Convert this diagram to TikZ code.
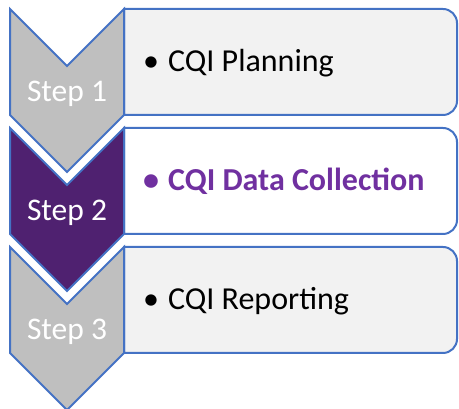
\documentclass[tikz,border=0pt]{standalone}
\usepackage{fontspec}
\setmainfont{Carlito}
\definecolor{edgeblue}{HTML}{4472C4}
\definecolor{chevgray}{HTML}{BFBFBF}
\definecolor{chevpurple}{HTML}{4F2170}
\definecolor{boxgray}{HTML}{F2F2F2}
\definecolor{textpurple}{HTML}{7030A0}
\tikzset{
  chevron/.style={draw=edgeblue, line width=2pt, line join=miter},
  panel/.style={draw=edgeblue, line width=2pt},
  steplabel/.style={text=white, font=\fontsize{31.5}{31.5}\selectfont, anchor=base, inner sep=0pt},
  itemlabel/.style={font=\fontsize{32}{32}\selectfont, anchor=base west, inner sep=0pt},
}
\begin{document}
\begin{tikzpicture}[x=1pt,y=1pt]
\useasboundingbox (0,0) rectangle (459,409);

% panels with rounded right corners
\foreach \yt/\fillc in {400/boxgray, 281/white, 162/boxgray}{
  \draw[panel, fill=\fillc] (124,\yt) -- (443,\yt)
    arc[start angle=90, end angle=0, radius=14pt] -- (457,\yt-92)
    arc[start angle=0, end angle=-90, radius=14pt] -- (124,\yt-106) -- cycle;
}

% downward chevrons
\foreach \yt/\fillc in {400/chevgray, 281/chevpurple, 162/chevgray}{
  \draw[chevron, fill=\fillc] (10,\yt) -- (67,\yt-57) -- (124,\yt) -- (124,\yt-106)
    -- (67,\yt-163) -- (10,\yt-106) -- cycle;
}

% step labels
\node[steplabel] (s1) at (67,307) {Step 1};
\node[steplabel] (s2) at (67,188) {Step 2};
\node[steplabel] (s3) at (67,69) {Step 3};

% item texts
\node[itemlabel] (t1) at (143,337) {\textbullet\hspace{9pt}CQI Planning};
\node[itemlabel, text=textpurple, font=\fontsize{32}{32}\selectfont\bfseries] (t2) at (143,218) {\textbullet\hspace{9pt}CQI Data Collection};
\node[itemlabel] (t3) at (143,99) {\textbullet\hspace{9pt}CQI Reporting};
\end{tikzpicture}
\end{document}
